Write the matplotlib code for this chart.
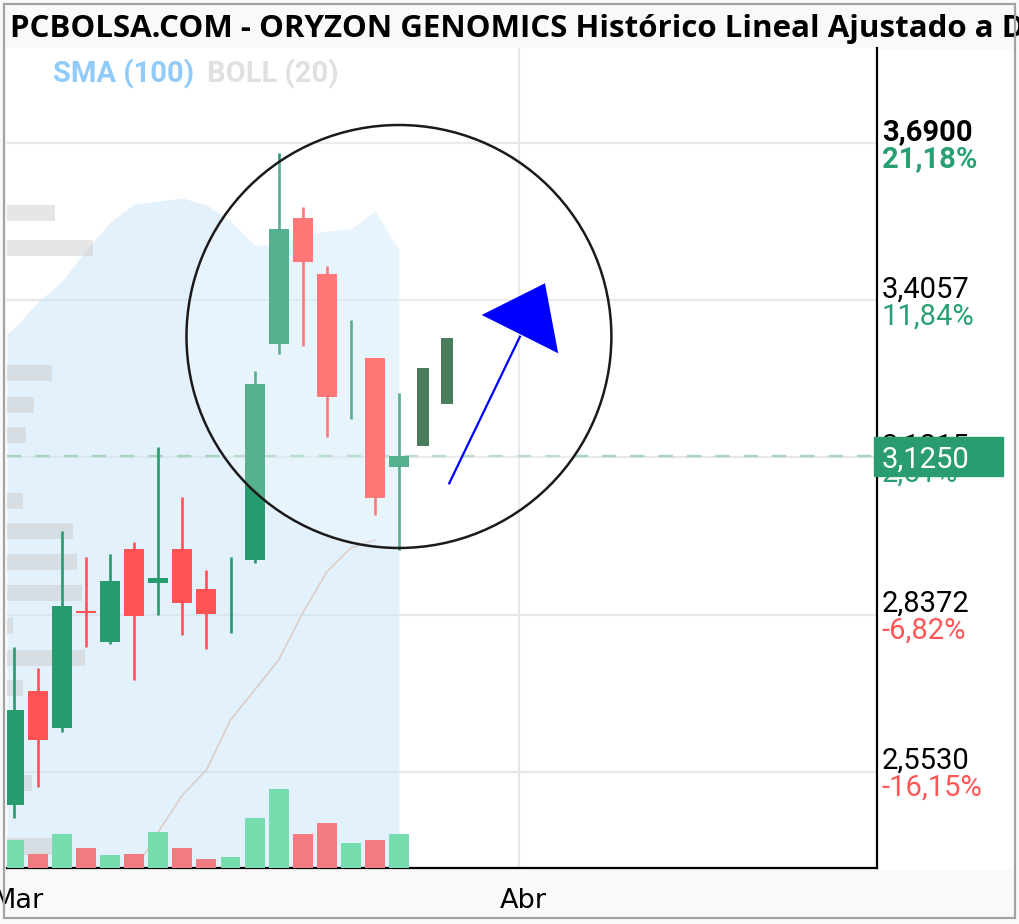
import numpy as np
import matplotlib.pyplot as plt
from matplotlib.patches import Ellipse, Polygon, Rectangle
from matplotlib import transforms

# daily candles, index 0 = first session of March
opens  = [2.4933, 2.6999, 2.6325, 2.8432, 2.7874, 2.9555, 2.8952, 2.9555, 2.8832, 2.8700,
          2.9362, 3.3267, 3.5550, 3.4532, 3.2500, 3.3008, 3.1038]
highs  = [2.7789, 2.7410, 2.9886, 2.9422, 2.9470, 2.9693, 3.1410, 3.0506, 2.9181, 2.9422,
          3.2784, 3.6720, 3.5749, 3.4677, 3.3700, 3.3008, 3.2375]
lows   = [2.4698, 2.5259, 2.6258, 2.7795, 2.7838, 2.7193, 2.8368, 2.8006, 2.7748, 2.8048,
          2.9308, 3.3086, 3.3236, 3.1591, 3.1905, 3.0175, 2.9543]
closes = [2.6651, 2.6108, 2.8530, 2.8395, 2.8988, 2.8350, 2.9042, 2.8590, 2.8386, 2.8700,
          3.2544, 3.5340, 3.4743, 3.2303, 3.2500, 3.0477, 3.1250]
volume = [560, 280, 680, 400, 260, 280, 720, 400, 180, 220, 1000, 1580, 680, 900, 500, 560, 680]

# projected candles (no wicks)
proj_open = [3.1423, 3.2182]
proj_close = [3.2827, 3.3380]

# SMA(100) band top and faint BOLL line
sma = [3.3556, 3.4026, 3.4405, 3.4966, 3.5472, 3.5797, 3.5852, 3.5906, 3.5779, 3.5490,
       3.5056, 3.5056, 3.5237, 3.5309, 3.5345, 3.5671, 3.4966]
boll_start = 5
boll = [2.375, 2.4445, 2.5114, 2.5566, 2.6470, 2.7012, 2.7554, 2.8404, 2.9145, 2.9579, 2.9724]

# volume by price (left profile)
vp_price = [3.5635, 3.5002, 3.2742, 3.2164, 3.1622, 3.0429, 2.9886, 2.9326, 2.8766, 2.8169,
            2.7596, 2.7048, 2.5331, 2.4183]
vp_vol = [48, 86, 45, 27, 19, 16, 66, 70, 75, 6, 78, 16, 25, 45]

levels = [3.6900, 3.4057, 3.1215, 2.8372, 2.5530]
pcts = [21.18, 11.84, 2.51, -6.82, -16.15]
last_price = 3.1250
month_pos = [0, 21]
month_lab = ['Mar', 'Abr']

title = 'PCBOLSA.COM - ORYZON GENOMICS Histórico Lineal Ajustado a Dividendos'

GREEN = '#269b6e'
RED = '#ff5252'
PCT_GREEN = '#28a071'
PCT_RED = '#ff5656'

W, H = 1020, 924


def fx(px):
    return px / W


def fy(py):
    return 1 - py / H


fig = plt.figure(figsize=(W / 100, H / 100), dpi=100, facecolor='#f9f9f9')
fig.patches.append(Rectangle((fx(877), fy(868)), (1015 - 877) / W, (868 - 48) / H,
                             transform=fig.transFigure, color='white', zorder=-1))
ax = fig.add_axes([fx(7), fy(868), (877 - 7) / W, (868 - 48) / H])
ax.set_facecolor('white')
x0, x1 = -0.29, 35.87
ax.set_xlim(x0, x1)
ax.set_ylim(2.3794, 3.8617)

idx = np.arange(len(opens))

# SMA band
xb = np.r_[x0, idx]
yb = np.r_[sma[0] - 0.01, sma]
ax.fill_between(xb, yb, 2.3794, color='#cbe7fa', alpha=0.55, lw=0, zorder=1)

# volume profile
ax.barh(vp_price, np.array(vp_vol) / 24.06, height=0.029, left=x0,
        color='#c8c8c8', alpha=0.45, lw=0, zorder=2)

# faint line
ax.plot(np.arange(boll_start, boll_start + len(boll)), boll, color='#dacec7', lw=1.2, zorder=2)

# candles
for i in idx:
    o, h, l, c = opens[i], highs[i], lows[i], closes[i]
    col = GREEN if c >= o else RED
    ax.plot([i, i], [l, h], color=col, lw=1.9, zorder=3, solid_capstyle='butt')
    ax.bar(i, abs(c - o), bottom=min(o, c), width=0.83, color=col, lw=0, zorder=3)

# gridlines and last price line
ax.set_yticks(levels)
ax.set_axisbelow(True)
ax.grid(axis='y', color='#e6e6e6', lw=1.5)
ax.axvline(21, color='#e6e6e6', lw=1.5, zorder=0.5)
ax.axhline(last_price, color='#a6d5bd', lw=1.7, dashes=(6, 6), zorder=2.5)

# highlight circle
ax.add_patch(Ellipse((16.0, 3.3402), 17.66, 0.7646, fc='white', alpha=0.22, lw=0, zorder=4))
ax.add_patch(Ellipse((16.0, 3.3402), 17.66, 0.7646, fill=False, ec='#1a1a1a', lw=1.8, zorder=6))

# projected candles
for k in range(len(proj_open)):
    ax.bar(len(opens) + k, proj_close[k] - proj_open[k], bottom=proj_open[k], width=0.5,
           color='#4a7d5c', lw=0, zorder=5)

# arrow
ax.plot([18.09, 21.03], [3.0748, 3.3399], color='#0000ff', lw=1.6, zorder=7)
ax.add_patch(Polygon([[19.44, 3.3791], [22.07, 3.4364], [22.62, 3.3098]], closed=True,
                     color='#0000ff', lw=0, zorder=7))

# axes styling
for s in ['left', 'top']:
    ax.spines[s].set_visible(False)
for s in ['right', 'bottom']:
    ax.spines[s].set_color('black')
    ax.spines[s].set_linewidth(1.6)
ax.tick_params(axis='y', length=0, labelleft=False, labelright=False)
ax.set_xticks(month_pos, month_lab)
ax.tick_params(axis='x', length=0, pad=14.5, labelsize=19.5, labelcolor='black')
shift = transforms.ScaledTranslation(4 / 100, 0, fig.dpi_scale_trans)
for lab in ax.get_xticklabels():
    lab.set_transform(lab.get_transform() + shift)

# price labels on the right
trans = transforms.blended_transform_factory(ax.transAxes, ax.transData)
xl = (882 - 7) / (877 - 7)
for j, (lv, pc) in enumerate(zip(levels, pcts)):
    bold = 'bold' if j == 0 else 'normal'
    t1 = transforms.offset_copy(trans, fig, y=3, units='dots')
    t2 = transforms.offset_copy(trans, fig, y=-24, units='dots')
    ax.text(xl, lv, f'{lv:.4f}'.replace('.', ','), transform=t1, ha='left', va='baseline',
            fontsize=21, family='Roboto', weight=bold, color='black', clip_on=False)
    pstr = f'{pc:.2f}'.replace('.', ',') + '%'
    ax.text(xl, lv, pstr, transform=t2, ha='left', va='baseline', fontsize=21,
            family='Roboto', weight=bold, color=PCT_GREEN if pc >= 0 else PCT_RED, clip_on=False)

# last price tag
fig.patches.append(Rectangle((fx(874), fy(476)), (1003 - 874) / W, (476 - 437) / H,
                             transform=fig.transFigure, color='#2a9d70', zorder=5))
fig.text(fx(882), fy(457), f'{last_price:.4f}'.replace('.', ','), ha='left', va='center_baseline',
         fontsize=21, family='Roboto', color='white', zorder=6)

# volume bars
ax2 = fig.add_axes(ax.get_position(), sharex=ax)
ax2.set_ylim(0, 16400)
ax2.axis('off')
ax2.patch.set_visible(False)
vcol = ['#77ddaf' if closes[i] >= opens[i] else '#f17b80' for i in idx]
ax2.bar(idx, volume, width=0.83, color=vcol, lw=0)

# legend text and title
fig.text(fx(53), fy(82), 'SMA (100)', fontsize=21, family='Roboto', weight='bold', color='#90cbf9')
fig.text(fx(207), fy(82), 'BOLL (20)', fontsize=21, family='Roboto', weight='bold', color='#e0e0e0')
fig.patches.append(Rectangle((fx(4), fy(48)), (1015 - 4) / W, 44 / H,
                             transform=fig.transFigure, color='#f9f9f9', zorder=-1))
fig.text(fx(10), fy(37), title, fontsize=22.5, family='Open Sans', weight='bold', color='black')

# outer frame
fig.patches.append(Rectangle((fx(4), fy(918)), (1015 - 4) / W, (918 - 4) / H,
                             transform=fig.transFigure, fill=False, ec='#a3a3a3', lw=1.6, zorder=10))

fig.savefig('out.png', dpi=100, facecolor=fig.get_facecolor())
